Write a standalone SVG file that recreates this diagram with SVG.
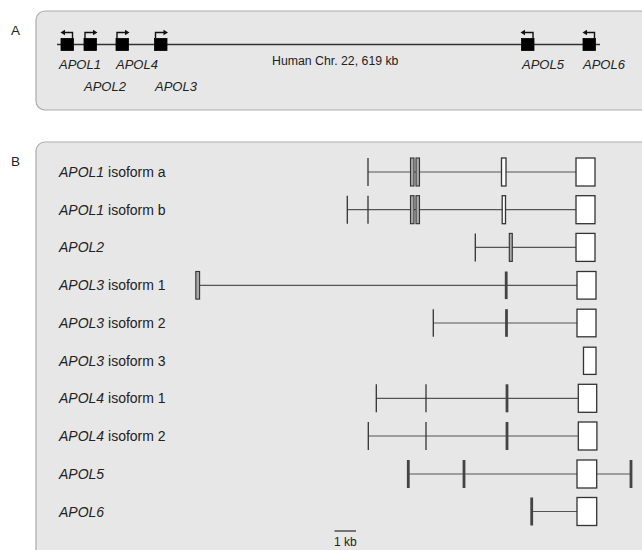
<svg xmlns="http://www.w3.org/2000/svg" width="642" height="550" viewBox="0 0 642 550">
<defs>
<style>
.panel{fill:#e7e7e7;stroke:#ababab;stroke-width:1.2}
.lbl{font-family:"Liberation Sans",Arial,sans-serif;fill:#222}
.gA{font-family:"Liberation Sans",Arial,sans-serif;font-size:13px;font-style:italic;fill:#222}
.gB{font-family:"Liberation Sans",Arial,sans-serif;font-size:14px;fill:#222}
.it{font-style:italic}
.sq{fill:#000;stroke:#000;stroke-width:0.8}
.arr{fill:none;stroke:#111;stroke-width:1.4}
.head{fill:#111}
.chr{stroke:#333;stroke-width:1.3;fill:none}
.intron{stroke:#555;stroke-width:1.2;fill:none}
.tick{stroke:#333;stroke-width:1.3}
.thick{stroke:#444;stroke-width:2.8}
.ex{fill:#fff;stroke:#333;stroke-width:1.3}
.exg{fill:#a8a8a8;stroke:#333;stroke-width:1.1}
</style>
</defs>
<rect width="642" height="550" fill="#fff"/>

<g id="panelA">
<rect class="panel" x="36" y="11" width="640" height="99" rx="9"/>
<text class="lbl" x="11" y="35" font-size="13.5">A</text>
<text class="lbl" x="272" y="65" font-size="12.3">Human Chr. 22, 619 kb</text>
</g>
<g id="panelB">
<rect class="panel" x="36" y="142" width="640" height="430" rx="9"/>
<text class="lbl" x="11" y="166" font-size="13.5">B</text>
</g>

<g id="connectors">
<line class="chr" x1="57" y1="44.5" x2="600" y2="44.5"/>
<line class="intron" x1="368" y1="172" x2="576" y2="172"/>
<line class="intron" x1="347" y1="209.7" x2="576" y2="209.7"/>
<line class="intron" x1="475" y1="247.4" x2="576" y2="247.4"/>
<line class="intron" x1="198" y1="285.3" x2="577" y2="285.3"/>
<line class="intron" x1="433" y1="323" x2="577" y2="323"/>
<line class="intron" x1="376" y1="398.3" x2="578" y2="398.3"/>
<line class="intron" x1="368" y1="436" x2="578" y2="436"/>
<line class="intron" x1="408" y1="474" x2="631" y2="474"/>
<line class="intron" x1="532" y1="511.5" x2="577" y2="511.5"/>
</g>

<g id="geneA-APOL1">
<rect class="sq" x="61" y="38.5" width="12.5" height="12"/>
<path class="arr" d="M72.5,38.5 V32.5 H64"/>
<polygon class="head" points="60.5,32.5 65,29.8 65,35.2"/>
<text class="gA" x="59" y="69">APOL1</text>
</g>
<g id="geneA-APOL2">
<rect class="sq" x="84" y="38.5" width="12.5" height="12"/>
<path class="arr" d="M85,38.5 V32.5 H94"/>
<polygon class="head" points="97.5,32.5 93,29.8 93,35.2"/>
<text class="gA" x="84" y="91">APOL2</text>
</g>
<g id="geneA-APOL4">
<rect class="sq" x="116" y="38.5" width="12.5" height="12"/>
<path class="arr" d="M117,38.5 V32.5 H126"/>
<polygon class="head" points="129.5,32.5 125,29.8 125,35.2"/>
<text class="gA" x="116" y="69">APOL4</text>
</g>
<g id="geneA-APOL3">
<rect class="sq" x="154.5" y="38.5" width="12.5" height="12"/>
<path class="arr" d="M155.5,38.5 V32.5 H164.5"/>
<polygon class="head" points="168,32.5 163.5,29.8 163.5,35.2"/>
<text class="gA" x="155" y="91">APOL3</text>
</g>
<g id="geneA-APOL5">
<rect class="sq" x="521.5" y="38.5" width="12.5" height="12"/>
<path class="arr" d="M533,38.5 V32.5 H524"/>
<polygon class="head" points="520.5,32.5 525,29.8 525,35.2"/>
<text class="gA" x="522" y="69">APOL5</text>
</g>
<g id="geneA-APOL6">
<rect class="sq" x="583" y="38.5" width="12.5" height="12"/>
<path class="arr" d="M594.5,38.5 V32.5 H586"/>
<polygon class="head" points="582.5,32.5 587,29.8 587,35.2"/>
<text class="gA" x="583" y="69">APOL6</text>
</g>

<g id="APOL1-isoform-a">
<text class="gB" x="59" y="177"><tspan class="it">APOL1</tspan> isoform a</text>
<line class="tick" x1="368" y1="158" x2="368" y2="186"/>
<rect class="exg" x="410.5" y="158" width="3.5" height="28"/>
<rect class="exg" x="416" y="158" width="3.5" height="28"/>
<rect class="ex" x="501.5" y="158" width="4.5" height="28"/>
<rect class="ex" x="576" y="158" width="19" height="28"/>
</g>
<g id="APOL1-isoform-b">
<text class="gB" x="59" y="214.7"><tspan class="it">APOL1</tspan> isoform b</text>
<line class="tick" x1="347.3" y1="195.7" x2="347.3" y2="223.7"/>
<line class="tick" x1="368" y1="195.7" x2="368" y2="223.7"/>
<rect class="exg" x="410.5" y="195.7" width="3.5" height="28"/>
<rect class="exg" x="416" y="195.7" width="3.5" height="28"/>
<rect class="ex" x="502.2" y="195.7" width="3.3" height="28" stroke-width="1.6"/>
<rect class="ex" x="576" y="195.7" width="19" height="28"/>
</g>
<g id="APOL2">
<text class="gB" x="59" y="252.4"><tspan class="it">APOL2</tspan></text>
<line class="tick" x1="475.3" y1="233.4" x2="475.3" y2="261.4"/>
<rect class="exg" x="509.3" y="233.4" width="3" height="28"/>
<rect class="ex" x="576" y="233.4" width="19" height="28"/>
</g>
<g id="APOL3-isoform-1">
<text class="gB" x="59" y="290.3"><tspan class="it">APOL3</tspan> isoform 1</text>
<rect class="exg" x="195.8" y="271.5" width="3.8" height="27.6" fill="#c8c8c8"/>
<line class="thick" x1="506.2" y1="271.5" x2="506.2" y2="299.1"/>
<rect class="ex" x="577" y="271.5" width="19" height="27.6"/>
</g>
<g id="APOL3-isoform-2">
<text class="gB" x="59" y="328"><tspan class="it">APOL3</tspan> isoform 2</text>
<line class="tick" x1="433.3" y1="309.2" x2="433.3" y2="336.8"/>
<line class="thick" x1="506.5" y1="309.2" x2="506.5" y2="336.8"/>
<rect class="ex" x="577" y="309.2" width="19" height="27.6"/>
</g>
<g id="APOL3-isoform-3">
<text class="gB" x="59" y="365.8"><tspan class="it">APOL3</tspan> isoform 3</text>
<rect class="ex" x="583.5" y="347.2" width="12.5" height="27.2"/>
</g>
<g id="APOL4-isoform-1">
<text class="gB" x="59" y="403.3"><tspan class="it">APOL4</tspan> isoform 1</text>
<line class="tick" x1="376.3" y1="384.3" x2="376.3" y2="412.3"/>
<line class="tick" x1="426" y1="384.3" x2="426" y2="412.3"/>
<line class="thick" x1="507" y1="384.3" x2="507" y2="412.3"/>
<rect class="ex" x="578.3" y="384.3" width="18.4" height="28"/>
</g>
<g id="APOL4-isoform-2">
<text class="gB" x="59" y="441"><tspan class="it">APOL4</tspan> isoform 2</text>
<line class="tick" x1="368.3" y1="422" x2="368.3" y2="450"/>
<line class="tick" x1="426" y1="422" x2="426" y2="450"/>
<line class="thick" x1="507" y1="422" x2="507" y2="450"/>
<rect class="ex" x="578.3" y="422" width="18.6" height="28"/>
</g>
<g id="APOL5">
<text class="gB" x="59" y="479"><tspan class="it">APOL5</tspan></text>
<line class="thick" x1="408.3" y1="460" x2="408.3" y2="488"/>
<line class="thick" x1="464" y1="460" x2="464" y2="488"/>
<line class="thick" x1="631" y1="460" x2="631" y2="488"/>
<rect class="ex" x="577" y="460" width="19.7" height="28"/>
</g>
<g id="APOL6">
<text class="gB" x="59" y="516.5"><tspan class="it">APOL6</tspan></text>
<line class="thick" x1="531.7" y1="497.5" x2="531.7" y2="525.5"/>
<rect class="ex" x="577" y="497.5" width="19.7" height="28"/>
</g>
<g id="scalebar">
<line class="tick" x1="334.5" y1="531" x2="356" y2="531"/>
<text class="lbl" x="334" y="546" font-size="12">1 kb</text>
</g>
</svg>
